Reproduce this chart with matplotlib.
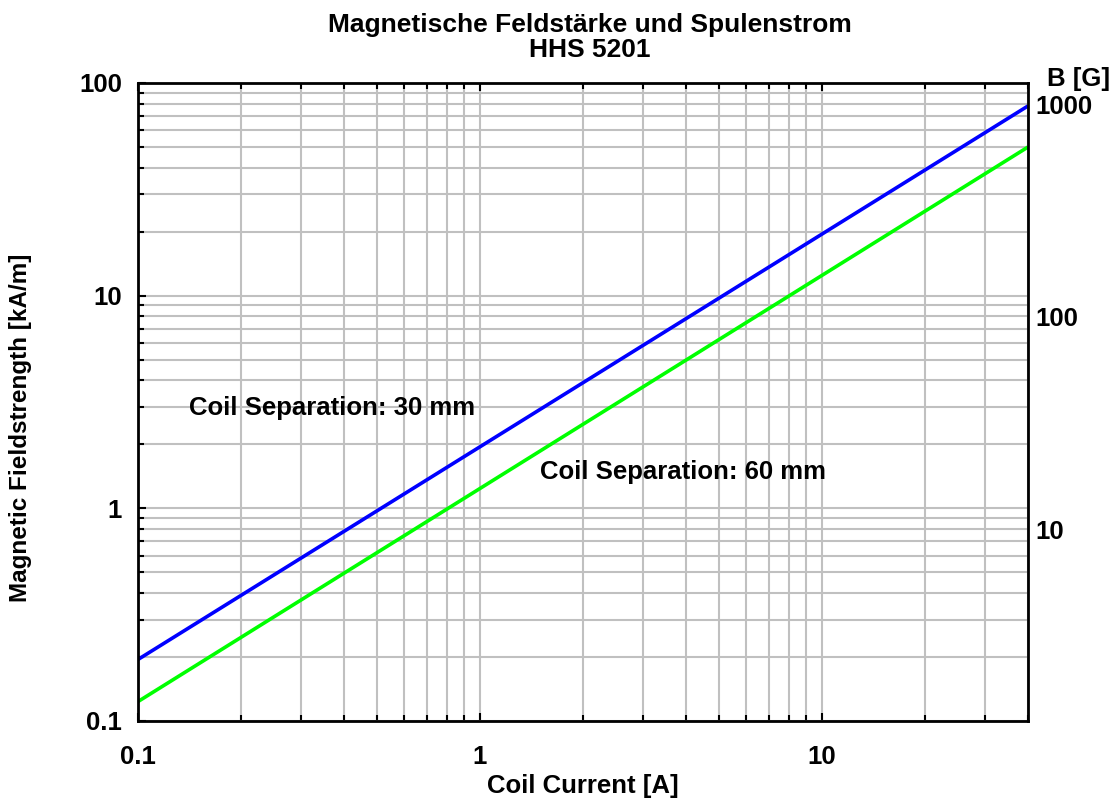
import matplotlib.pyplot as plt
from matplotlib.ticker import LogLocator, FixedLocator, NullFormatter

plt.rcParams['font.family'] = ['Liberation Sans', 'DejaVu Sans']
plt.rcParams['font.weight'] = 'bold'

current = [0.1, 40]
h_30mm = [0.194, 78.0]
h_60mm = [0.123, 50.0]
gauss_per_kam = 12.566  # B[G] = mu0 * H

fig = plt.figure(figsize=(11.14, 8.01), dpi=100)
ax = fig.add_axes([137.5 / 1114, 80 / 801, (1028 - 137.5) / 1114, (721 - 83) / 801])

ax.plot(current, h_30mm, color='#0000ff', lw=2.6, solid_capstyle='butt')
ax.plot(current, h_60mm, color='#00ff00', lw=2.6, solid_capstyle='butt')

ax.set_xscale('log')
ax.set_yscale('log')
ax.set_xlim(0.1, 40)
ax.set_ylim(0.1, 100)

ax.xaxis.set_major_locator(FixedLocator([0.1, 1, 10]))
ax.xaxis.set_minor_locator(LogLocator(base=10, subs=range(2, 10)))
ax.xaxis.set_minor_formatter(NullFormatter())
ax.set_xticklabels(['0.1', '1', '10'])
ax.yaxis.set_major_locator(FixedLocator([0.1, 1, 10, 100]))
ax.yaxis.set_minor_locator(LogLocator(base=10, subs=range(2, 10)))
ax.yaxis.set_minor_formatter(NullFormatter())
ax.set_yticklabels(['0.1', '1', '10', '100'])

ax.grid(True, which='both', color='#c0c0c0', lw=1.5)
ax.set_axisbelow(True)
for s in ax.spines.values():
    s.set_linewidth(2)
ax.tick_params(which='both', direction='in', top=True, right=True, labelsize=18.5, width=1.5)
ax.tick_params(which='major', length=6)
ax.tick_params(which='minor', length=4)
ax.tick_params(axis='x', pad=17)
ax.tick_params(axis='y', pad=11)

ax.set_xlabel('Coil Current [A]', fontsize=18.5, fontweight='bold', labelpad=4)
ax.set_ylabel('Magnetic Fieldstrength [kA/m]', fontsize=17.5, fontweight='bold')
ax.yaxis.set_label_coords(-0.131, 0.46)
ax.yaxis.label.set_va('center')
ax.set_title('Magnetische Feldstärke und Spulenstrom\nHHS 5201', fontsize=19,
             fontweight='bold', pad=19, linespacing=1.02, x=0.508)

ax.text(0.141, 2.96, 'Coil Separation: 30 mm', fontsize=18.5, fontweight='bold', va='center')
ax.text(1.5, 1.49, 'Coil Separation: 60 mm', fontsize=18.5, fontweight='bold', va='center')

# rechte Achse in Gauss
ax2 = ax.twinx()
ax2.set_yscale('log')
ax2.set_ylim(0.1 * gauss_per_kam, 100 * gauss_per_kam)
ax2.yaxis.set_major_locator(FixedLocator([10, 100, 1000]))
ax2.yaxis.set_minor_locator(FixedLocator([]))
ax2.set_yticklabels(['10', '100', '1000'])
ax2.tick_params(axis='y', length=0, labelsize=18.5, pad=5)
for s in ax2.spines.values():
    s.set_visible(False)
ax2.text(1.021, 1.006, 'B [G]', transform=ax.transAxes, fontsize=18.5, fontweight='bold',
         ha='left', va='center')

fig.savefig('out.png', dpi=100)
